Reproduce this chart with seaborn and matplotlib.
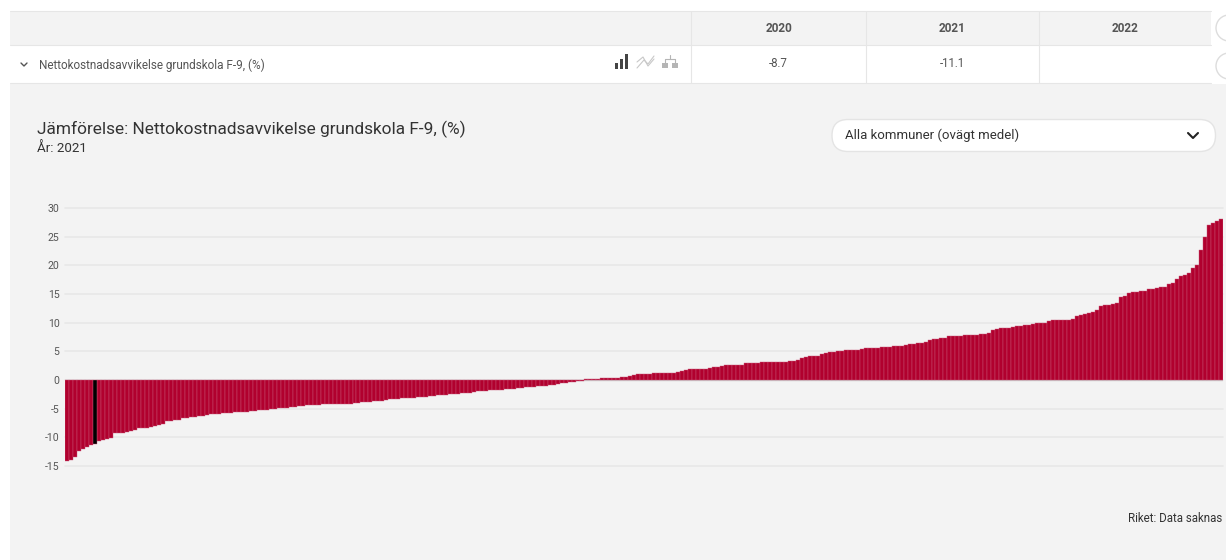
import matplotlib
matplotlib.use('Agg')
import matplotlib.pyplot as plt
from matplotlib.patches import Rectangle, FancyBboxPatch, Circle
import numpy as np
import pandas as pd
import seaborn as sns

title = 'Jämförelse: Nettokostnadsavvikelse grundskola F-9, (%)'
subtitle = 'År: 2021'
row_label = 'Nettokostnadsavvikelse grundskola F-9, (%)'
dropdown_label = 'Alla kommuner (ovägt medel)'
footer = 'Riket: Data saknas'
years = ['2020', '2021', '2022']
year_values = ['-8.7', '-11.1', '']
y_ticks = [-15, -10, -5, 0, 5, 10, 15, 20, 25, 30]
selected_index = 7

values = [
    -14.1, -14.0, -13.4, -12.4, -12.1, -11.7, -11.4, -11.1, -10.7, -10.4,
    -10.3, -10.1, -9.3, -9.3, -9.2, -9.1, -8.9, -8.8, -8.4, -8.3,
    -8.3, -8.2, -8.1, -7.9, -7.7, -7.2, -7.1, -6.9, -6.9, -6.6,
    -6.6, -6.5, -6.4, -6.3, -6.2, -6.1, -6.0, -5.9, -5.9, -5.8,
    -5.7, -5.7, -5.6, -5.6, -5.5, -5.5, -5.4, -5.4, -5.3, -5.3,
    -5.2, -5.0, -5.0, -4.9, -4.8, -4.8, -4.7, -4.7, -4.6, -4.5,
    -4.4, -4.3, -4.3, -4.3, -4.2, -4.2, -4.2, -4.2, -4.1, -4.1,
    -4.1, -4.1, -4.0, -4.0, -3.9, -3.8, -3.8, -3.7, -3.6, -3.6,
    -3.5, -3.4, -3.3, -3.3, -3.2, -3.2, -3.1, -3.1, -3.0, -3.0,
    -2.9, -2.8, -2.8, -2.7, -2.6, -2.6, -2.5, -2.4, -2.4, -2.3,
    -2.2, -2.2, -2.1, -2.0, -2.0, -1.9, -1.8, -1.7, -1.7, -1.7,
    -1.6, -1.5, -1.5, -1.4, -1.4, -1.3, -1.3, -1.2, -1.1, -1.1,
    -1.0, -0.9, -0.8, -0.7, -0.6, -0.5, -0.4, -0.3, -0.2, -0.1,
    0.1, 0.2, 0.2, 0.2, 0.3, 0.3, 0.3, 0.4, 0.4, 0.5,
    0.6, 0.7, 0.8, 1.0, 1.1, 1.1, 1.1, 1.2, 1.2, 1.2,
    1.3, 1.3, 1.3, 1.4, 1.5, 1.7, 1.9, 1.9, 2.0, 2.0,
    2.0, 2.1, 2.2, 2.3, 2.5, 2.6, 2.6, 2.7, 2.7, 2.7,
    2.9, 2.9, 3.0, 3.0, 3.1, 3.1, 3.1, 3.1, 3.2, 3.2,
    3.2, 3.3, 3.3, 3.5, 3.9, 4.0, 4.1, 4.1, 4.2, 4.6,
    4.7, 4.8, 4.9, 5.0, 5.1, 5.2, 5.2, 5.3, 5.3, 5.4,
    5.5, 5.5, 5.6, 5.6, 5.7, 5.7, 5.8, 5.9, 6.0, 6.0,
    6.1, 6.2, 6.3, 6.4, 6.5, 6.7, 6.9, 7.1, 7.2, 7.3,
    7.4, 7.6, 7.7, 7.7, 7.7, 7.8, 7.8, 7.8, 7.8, 8.1,
    8.1, 8.2, 8.7, 8.9, 9.0, 9.0, 9.1, 9.2, 9.4, 9.5,
    9.6, 9.6, 9.7, 9.9, 10.0, 10.0, 10.3, 10.4, 10.5, 10.5,
    10.5, 10.5, 10.6, 11.2, 11.3, 11.5, 11.7, 11.9, 12.2, 12.9,
    13.0, 13.1, 13.2, 13.5, 14.5, 14.6, 15.2, 15.3, 15.4, 15.5,
    15.6, 15.8, 15.9, 16.1, 16.2, 16.3, 16.8, 17.0, 17.7, 18.1,
    18.3, 18.6, 19.6, 20.0, 22.7, 25.0, 27.1, 27.3, 27.8, 28.0,
]

sns.set_theme(style='white')
plt.rcParams['font.family'] = ['Roboto', 'DejaVu Sans']

W, H = 1226, 560
fig = plt.figure(figsize=(W / 100, H / 100), dpi=100, facecolor='white')

# page furniture, drawn in pixel coordinates
bg = fig.add_axes([0, 0, 1, 1])
bg.set_xlim(0, W)
bg.set_ylim(H, 0)
bg.axis('off')

panel = '#f3f3f3'
line = '#e6e6e6'
bg.add_patch(Rectangle((10, 84), W - 10, H - 84, color=panel, lw=0))
bg.add_patch(Rectangle((10, 12), 1201, 33, color=panel, lw=0))
for y in [11, 45, 83]:
    bg.plot([10, 1211], [y, y], color=line, lw=0.8)
for x in [691, 865.5, 1039]:
    bg.plot([x, x], [11, 83], color=line, lw=0.8)

bg.text(39, 65, row_label, fontsize=8.45, color='#555555', va='center')
bg.plot([21, 24, 27], [63, 66, 63], color='#555555', lw=1)

centers = [778.5, 952, 1125]
for yr, val, cx in zip(years, year_values, centers):
    bg.text(cx, 29, yr, fontsize=8.5, fontweight='bold', color='#555555', ha='center', va='center')
    bg.text(cx, 63.5, val, fontsize=8.3, color='#555555', ha='center', va='center')

# the two round buttons cut off at the right edge
for cy in [28, 66]:
    bg.add_patch(Circle((1229, cy), 13, fc='white', ec='#dddddd', lw=1))

# view icons
for x0, top in [(615, 63), (620, 59), (625, 54)]:
    bg.add_patch(Rectangle((x0, top), 3, 69 - top, color='#444444', lw=0))
bg.plot([637, 644, 648, 654], [68, 60, 64, 56], color='#c8c8c8', lw=0.8)
bg.plot([637, 643, 648, 654], [62, 57, 66, 59], color='#c8c8c8', lw=0.8)
for x0 in [662, 672]:
    bg.add_patch(Rectangle((x0, 63), 6, 5, color='#b5b5b5', lw=0))
bg.plot([665, 665, 675, 675], [63, 59, 59, 63], color='#b5b5b5', lw=0.8)
bg.plot([670, 670], [55, 59], color='#b5b5b5', lw=0.8)

bg.text(37, 129, title, fontsize=12.38, color='#333333', va='center')
bg.text(37, 148.5, subtitle, fontsize=9.6, color='#333333', va='center')

bg.add_patch(FancyBboxPatch((832, 119.5), 383.5, 32, boxstyle='round,pad=0,rounding_size=16',
                            fc='white', ec='#e4e4e4', lw=1))
bg.text(845, 135, dropdown_label, fontsize=9.55, color='#333333', va='center')
bg.plot([1188, 1193, 1198], [133, 138, 133], color='#222222', lw=1.5)

bg.text(1222, 518.5, footer, fontsize=8.3, color='#333333', ha='right', va='center')

# the chart itself
left, right, top, bottom = 65, 1223, 208, 466
ax = fig.add_axes([left / W, 1 - bottom / H, (right - left) / W, (bottom - top) / H])
ax.patch.set_alpha(0)

df = pd.DataFrame({'kommun': np.arange(len(values)), 'value': values})
df['selected'] = df['kommun'] == selected_index
sns.barplot(data=df, x='kommun', y='value', hue='selected', dodge=False, legend=False,
            palette={False: '#b1002e', True: '#000000'}, width=1, linewidth=0.3, edgecolor='#c9587a',
            saturation=1, ax=ax, zorder=3)

ax.set_xlim(-0.5, len(values) - 0.5)
ax.set_ylim(-15, 30)
ax.set_xlabel('')
ax.set_ylabel('')
ax.set_xticks([])
ax.set_yticks(y_ticks)
ax.set_yticklabels([str(t) for t in y_ticks], fontsize=7.6, color='#555555')
ax.tick_params(axis='y', length=0, pad=4)
ax.grid(axis='y', color='#e8e8e8', lw=1.2, zorder=0)
ax.set_axisbelow(True)
for s in ax.spines.values():
    s.set_visible(False)
ax.axhline(0, color='#cccccc', lw=1, zorder=1)
for artist in ax.get_ygridlines():
    artist.set_clip_on(False)

fig.savefig('out.png', dpi=100)
